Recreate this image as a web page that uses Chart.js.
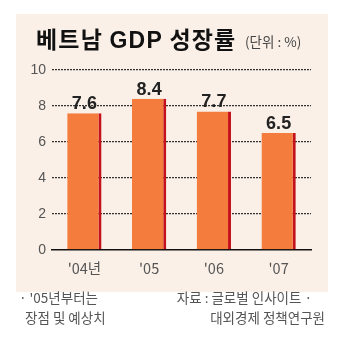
<!DOCTYPE html>
<html>
<head>
<meta charset="utf-8">
<script src="https://cdn.jsdelivr.net/npm/chart.js@4"></script>
<style>
  body { margin: 0; background: #fff; font-family: "Noto Sans CJK KR", sans-serif; }
  #wrap { position: relative; width: 340px; height: 351px; overflow: hidden; }
  #panel { position: absolute; left: 16px; top: 14px; width: 312px; height: 278px; background: #faf0e8; }
  #gdpChart { position: absolute; left: 0; top: 0; }
  .txt { position: absolute; white-space: nowrap; color: #444; }
  #title { left: 36px; top: 21px; font-size: 23px; font-weight: bold; color: #111; letter-spacing: 1.2px; }
  #title span { font-family: "Liberation Sans", Arial, sans-serif; }
  #unit { left: 245px; top: 31px; font-size: 13.5px; }
  .note { font-size: 13.5px; line-height: 20px; color: #555; }
</style>
</head>
<body>
<div id="wrap">
  <div id="panel"></div>
  <canvas id="gdpChart" width="340" height="351"></canvas>
  <div class="txt" id="title">베트남 <span>GDP</span> 성장률</div>
  <div class="txt" id="unit">(단위 : %)</div>
  <div class="txt note" style="left:19px; top:287px;">· '05년부터는<br>&nbsp;&nbsp;장점 및 예상치</div>
  <div class="txt note" style="right:15px; top:287px; text-align:right;"><span style="padding-right:13px">자료 : 글로벌 인사이트 ·</span><br>대외경제 정책연구원</div>
</div>
<script>
const years = ["'04년", "'05", "'06", "'07"];
const growth = [7.6, 8.4, 7.7, 6.5];
const yTicks = [0, 2, 4, 6, 8, 10];

const ctx = document.getElementById('gdpChart').getContext('2d');

const valueLabels = {
    id: 'valueLabels',
    afterDatasetsDraw(chart) {
        const c = chart.ctx;
        const meta = chart.getDatasetMeta(0);
        c.save();
        c.font = 'bold 18px "Liberation Sans", Arial, sans-serif';
        c.fillStyle = '#222';
        c.textAlign = 'center';
        c.textBaseline = 'bottom';
        meta.data.forEach((bar, i) => {
            c.fillText(growth[i].toFixed(1), bar.x, bar.y);
        });
        c.restore();
    }
};

new Chart(ctx, {
    type: 'bar',
    data: {
        labels: years,
        datasets: [{
            data: growth,
            backgroundColor: '#f47d3e',
            borderColor: '#c4121c',
            borderWidth: { left: 0, top: 0, bottom: 0, right: 3 },
            borderSkipped: false,
            categoryPercentage: 1,
            barPercentage: 0.53
        }]
    },
    options: {
        responsive: false,
        animation: false,
        layout: { padding: { top: 70, right: 29, left: 0, bottom: 0 } },
        plugins: { legend: { display: false }, tooltip: { enabled: false } },
        scales: {
            x: {
                grid: { display: false },
                border: { display: true, color: '#111', width: 1.5 },
                ticks: { color: '#555', font: { size: 14.5, family: '"Noto Sans CJK KR"' }, padding: 2 },
                afterFit(s) { s.height = 101; }
            },
            y: {
                min: 0,
                max: 10,
                afterBuildTicks(s) { s.ticks = yTicks.map(v => ({ value: v })); },
                grid: {
                    color: c => c.tick.value === 0 ? 'rgba(0,0,0,0)' : '#333',
                    lineWidth: 1.3,
                    drawTicks: false
                },
                border: { display: false, dash: [2, 1] },
                ticks: { color: '#555', font: { size: 14, family: '"Liberation Sans", Arial' }, padding: 6 },
                afterFit(s) { s.width = 52; }
            }
        }
    },
    plugins: [valueLabels]
});
</script>
</body>
</html>
